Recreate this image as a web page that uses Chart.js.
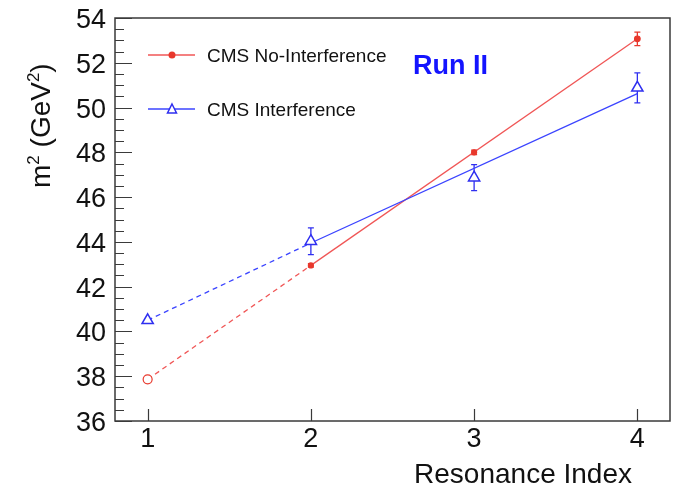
<!DOCTYPE html>
<html>
<head>
<meta charset="utf-8">
<script src="https://cdn.jsdelivr.net/npm/chart.js@4.4.1/dist/chart.umd.min.js"></script>
<style>
  html, body { margin: 0; padding: 0; background: #fff; }
  #wrap { width: 678px; height: 488px; }
</style>
</head>
<body>
<div id="wrap"><canvas id="massChart" width="678" height="488"></canvas></div>
<script>
/* ---- data ---- */
const resIndex    = [1, 2, 3, 4];
const noIntMass   = [37.86, 42.95, 48.0, 53.07];
const noIntErr    = [0, 0.08, 0.1, 0.3];
const intMass     = [40.5, 44.03, 46.87, 50.88];
const intErr      = [0, 0.6, 0.58, 0.67];

// straight-line trends: dashed 1->2, solid 2->4
const lineX       = [1, 2, 4];
const noIntLine   = [37.86, 42.95, 53.07];
const intLine     = [40.5, 43.95, 50.62];

const yMajor      = [36, 38, 40, 42, 44, 46, 48, 50, 52, 54];
const xMajor      = [1, 2, 3, 4];

const RED      = '#e8382c';
const RED_LN   = '#f05656';
const BLUE     = '#2f2ff0';
const BLUE_LN  = '#3b44ff';
const FONT     = "'Liberation Sans', Arial, Helvetica, sans-serif";

const pts = (xs, ys) => xs.map((x, i) => ({ x: x, y: ys[i] }));

// text with small raised runs, e.g. [['m'], ['2', true]]
function drawRuns(ctx, runs, x0, y0, size) {
  let cx = x0;
  runs.forEach(([txt, sup]) => {
    ctx.font = (sup ? Math.round(size * 0.6) : size) + 'px ' + FONT;
    ctx.fillText(txt, cx, sup ? y0 - size * 0.4 : y0);
    cx += ctx.measureText(txt).width;
  });
}

/* ---- frame, ticks, labels, legend ---- */
const decor = {
  id: 'decor',
  beforeDatasetsDraw(chart) {
    const { ctx, scales: { x, y } } = chart;
    // error bars (under the markers)
    const bars = [[noIntMass, noIntErr, RED], [intMass, intErr, BLUE]];
    ctx.save();
    ctx.lineWidth = 1.3;
    bars.forEach(([vals, errs, col]) => {
      ctx.strokeStyle = col;
      resIndex.forEach((r, i) => {
        if (!errs[i]) return;
        const px = x.getPixelForValue(r);
        const lo = y.getPixelForValue(vals[i] - errs[i]);
        const hi = y.getPixelForValue(vals[i] + errs[i]);
        ctx.beginPath();
        ctx.moveTo(px, lo); ctx.lineTo(px, hi);
        ctx.moveTo(px - 3, lo); ctx.lineTo(px + 3, lo);
        ctx.moveTo(px - 3, hi); ctx.lineTo(px + 3, hi);
        ctx.stroke();
      });
    });
    ctx.restore();
  },
  afterDraw(chart) {
    const { ctx, chartArea: a, scales: { x, y } } = chart;
    ctx.save();
    ctx.strokeStyle = '#3a3a3a';
    ctx.lineWidth = 1.5;
    ctx.strokeRect(a.left, a.top, a.right - a.left, a.bottom - a.top);

    // y ticks: major every 2, minor every 0.5
    ctx.lineWidth = 1.2;
    ctx.beginPath();
    for (let v = 36; v <= 54.001; v += 0.5) {
      const py = Math.round(y.getPixelForValue(v)) + 0.5;
      const len = (v % 2 === 0) ? 17 : 9;
      ctx.moveTo(a.left, py); ctx.lineTo(a.left + len, py);
    }
    xMajor.forEach(v => {
      const px = Math.round(x.getPixelForValue(v)) + 0.5;
      ctx.moveTo(px, a.bottom); ctx.lineTo(px, a.bottom - 12);
    });
    ctx.stroke();

    // tick labels
    ctx.fillStyle = '#111';
    ctx.font = '27px ' + FONT;
    ctx.textAlign = 'right';
    ctx.textBaseline = 'alphabetic';
    yMajor.forEach(v => {
      ctx.fillText(String(v), 106, y.getPixelForValue(v) + 10);
    });
    ctx.textAlign = 'center';
    xMajor.forEach(v => {
      ctx.fillText(String(v), x.getPixelForValue(v), 447);
    });

    // axis titles
    ctx.font = '28px ' + FONT;
    ctx.textAlign = 'right';
    ctx.fillText('Resonance Index', 632, 483);
    ctx.save();
    ctx.translate(50, 188);
    ctx.rotate(-Math.PI / 2);
    ctx.textAlign = 'left';
    drawRuns(ctx, [['m'], ['2', true], [' (GeV'], ['2', true], [')']], 0, 0, 28);
    ctx.restore();

    // legend
    const legend = [
      ['CMS No-Interference', RED_LN, RED, 'circle', 55],
      ['CMS Interference', BLUE_LN, BLUE, 'triangle', 109]
    ];
    legend.forEach(([label, lineCol, markCol, shape, ly]) => {
      ctx.strokeStyle = lineCol;
      ctx.lineWidth = 1.3;
      ctx.beginPath();
      ctx.moveTo(148, ly); ctx.lineTo(195, ly);
      ctx.stroke();
      if (shape === 'circle') {
        ctx.fillStyle = markCol;
        ctx.beginPath();
        ctx.arc(172, ly, 3.5, 0, Math.PI * 2);
        ctx.fill();
      } else {
        ctx.fillStyle = '#fff';
        ctx.strokeStyle = markCol;
        ctx.lineWidth = 1.5;
        ctx.beginPath();
        ctx.moveTo(172, ly - 5); ctx.lineTo(176.5, ly + 4); ctx.lineTo(167.5, ly + 4);
        ctx.closePath();
        ctx.fill(); ctx.stroke();
      }
      ctx.fillStyle = '#111';
      ctx.font = '19px ' + FONT;
      ctx.textAlign = 'left';
      ctx.fillText(label, 207, ly + 7);
    });

    ctx.fillStyle = '#1414ff';
    ctx.font = 'bold 27px ' + FONT;
    ctx.fillText('Run II', 413, 74);
    ctx.restore();
  }
};

const dashFirst = c => (c.p0DataIndex === 0 ? [5, 4] : undefined);

new Chart(document.getElementById('massChart'), {
  type: 'scatter',
  data: {
    datasets: [
      {
        label: 'CMS Interference',
        data: pts(resIndex, intMass),
        pointStyle: 'triangle',
        pointRadius: 6.5,
        pointBorderWidth: 1.5,
        borderColor: BLUE,
        backgroundColor: '#fff',
        order: 1,
      },
      {
        label: 'CMS No-Interference',
        data: pts(resIndex, noIntMass),
        pointStyle: 'circle',
        pointRadius: [4.5, 2.5, 2.5, 2.8],
        pointBorderWidth: 1.2,
        borderColor: RED,
        backgroundColor: [ '#fff', RED, RED, RED ],
        order: 2,
      },
      {
        data: pts(lineX, intLine),
        showLine: true,
        pointRadius: 0,
        borderColor: BLUE_LN,
        borderWidth: 1.3,
        segment: { borderDash: dashFirst },
        order: 3,
      },
      {
        data: pts(lineX, noIntLine),
        showLine: true,
        pointRadius: 0,
        borderColor: RED_LN,
        borderWidth: 1.3,
        segment: { borderDash: dashFirst },
        order: 4,
      },
    ],
  },
  options: {
    responsive: false,
    animation: false,
    layout: { padding: { left: 115, top: 18, right: 5.4, bottom: 67 } },
    plugins: { legend: { display: false }, tooltip: { enabled: false } },
    scales: {
      x: { display: false, min: 0.8, max: 4.2 },
      y: { display: false, min: 36, max: 54 },
    },
  },
  plugins: [decor],
});
</script>
</body>
</html>
